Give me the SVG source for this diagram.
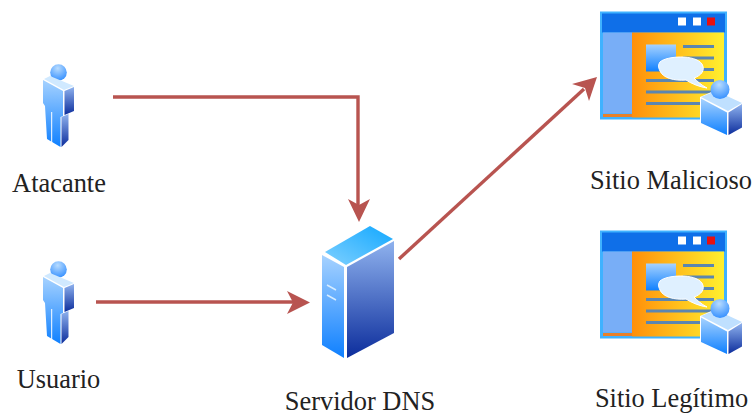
<svg xmlns="http://www.w3.org/2000/svg" xmlns:xlink="http://www.w3.org/1999/xlink" width="756" height="416" viewBox="0 0 756 416">
<style>
text{font-family:"Liberation Serif","Times New Roman",serif;font-size:26.4px;fill:#222;text-anchor:middle}
.c{fill:none;stroke:#b85450;stroke-width:3.4}
.h{fill:#b85450}
.ln{fill:#5b86b0}
</style>
<defs>
<linearGradient id="lb" x1="0" y1="0" x2="0" y2="1"><stop offset="0" stop-color="#a6d2ff"/><stop offset="1" stop-color="#0f80ff"/></linearGradient>
<linearGradient id="db" x1="0" y1="0" x2="0" y2="1"><stop offset="0" stop-color="#8fb2ee"/><stop offset="1" stop-color="#0c2d9c"/></linearGradient>
<linearGradient id="tb" x1="1" y1="0" x2="0" y2="1"><stop offset="0" stop-color="#12a8ff"/><stop offset="1" stop-color="#7fd0ff"/></linearGradient>
<linearGradient id="og" x1="0" y1="0" x2="1" y2="0"><stop offset="0" stop-color="#ff8f0a"/><stop offset="1" stop-color="#fff02e"/></linearGradient>
<radialGradient id="hd" cx="0.45" cy="0.25" r="0.8"><stop offset="0" stop-color="#b8dcff"/><stop offset="1" stop-color="#2f8cff"/></radialGradient>
<g id="person">
<circle cx="58.5" cy="72.500" r="8.300" fill="url(#hd)"/>
<path d="M43 80L63 91V116L60.500 117V147L47 139L45 106L43 103Z" fill="url(#lb)"/>
<path d="M51.700 112V143" stroke="#fff" stroke-width="1" fill="none"/>
<path d="M44 79L50 76L74 86L64 90Z" fill="#d0e9ff"/>
<path d="M64.500 91L74 87V111L64.500 115Z" fill="url(#db)"/>
<path d="M61.500 117L68.500 114V140L61.500 147Z" fill="url(#db)"/>
</g>
<g id="site">
<rect x="600" y="11.500" width="127" height="108" fill="#3fb2ff"/>
<rect x="602" y="13.500" width="123" height="19" fill="#0f6fe8"/>
<rect x="603" y="32.500" width="29" height="81" fill="#78aef7"/>
<rect x="632" y="32.500" width="92" height="85" fill="url(#og)"/>
<rect x="603" y="114" width="29" height="3" fill="#e8802a"/>
<rect x="678" y="17.500" width="8" height="8" fill="#fff"/>
<rect x="693" y="17.500" width="8" height="8" fill="#fff"/>
<rect x="707" y="17.500" width="8" height="8" fill="#e81010"/>
<rect x="646" y="44.500" width="30" height="27" fill="url(#lb)"/>
<rect class="ln" x="683" y="45" width="31" height="3"/>
<rect class="ln" x="683" y="56.500" width="31" height="3"/>
<rect class="ln" x="683" y="68" width="31" height="3"/>
<rect class="ln" x="646" y="79" width="68" height="3"/>
<rect class="ln" x="646" y="90.500" width="68" height="3"/>
<rect class="ln" x="646" y="102" width="62" height="3"/>
<path d="M660 62C666 56 695 54 702 64C706 71 700 76 694 78C697 81 701 85 707 88C700 87 692 84 686 80C674 81 663 78 660 71C658 67 658 65 660 62Z" fill="#dff0ff" stroke="#fff"/>
<path d="M700 97L716 90L744 103L744 128L727 137L700 124Z" fill="#fff"/>
<path d="M701 97L716 91L742 103L728 111Z" fill="#bfe0ff"/>
<path d="M701 98.500L727 112.500V135L701 123Z" fill="url(#lb)"/>
<path d="M728.500 112.500L742 104V127.500L728.500 135Z" fill="url(#db)"/>
<circle cx="720" cy="89.500" r="9.500" fill="url(#hd)"/>
</g>
</defs>
<g id="connectors">
<path class="c" d="M113 97H358V206"/>
<path class="h" d="M359 222L348 199L359 205L370 199Z"/>
<path class="c" d="M96 302H293"/>
<path class="h" d="M310 302.500L287 291L293 302.500L287 314Z"/>
<path class="c" d="M399 259L584 89"/>
<path class="h" d="M597 77L589 101L585 88L572 84Z"/>
</g>
<g id="atacante"><use xlink:href="#person" href="#person"/><text x="59" y="191.500">Atacante</text></g>
<g id="usuario"><use xlink:href="#person" href="#person" y="197"/><text x="58.500" y="388">Usuario</text></g>
<g id="servidor-dns">
<path d="M325 252L370 226L393 239L346 265Z" fill="url(#tb)"/>
<path d="M322 255L344 267V358L322 345Z" fill="url(#lb)"/>
<path d="M347 267L394 241V333L347 358Z" fill="url(#db)"/>
<path d="M327 285L336 290M327 295L336 300" stroke="#d6ecff" stroke-width="1.500"/>
<text x="360" y="410">Servidor DNS</text>
</g>
<g id="sitio-malicioso"><use xlink:href="#site" href="#site"/><text x="671" y="189">Sitio Malicioso</text></g>
<g id="sitio-legitimo"><use xlink:href="#site" href="#site" y="219"/><text x="671.500" y="407">Sitio Legítimo</text></g>
</svg>
